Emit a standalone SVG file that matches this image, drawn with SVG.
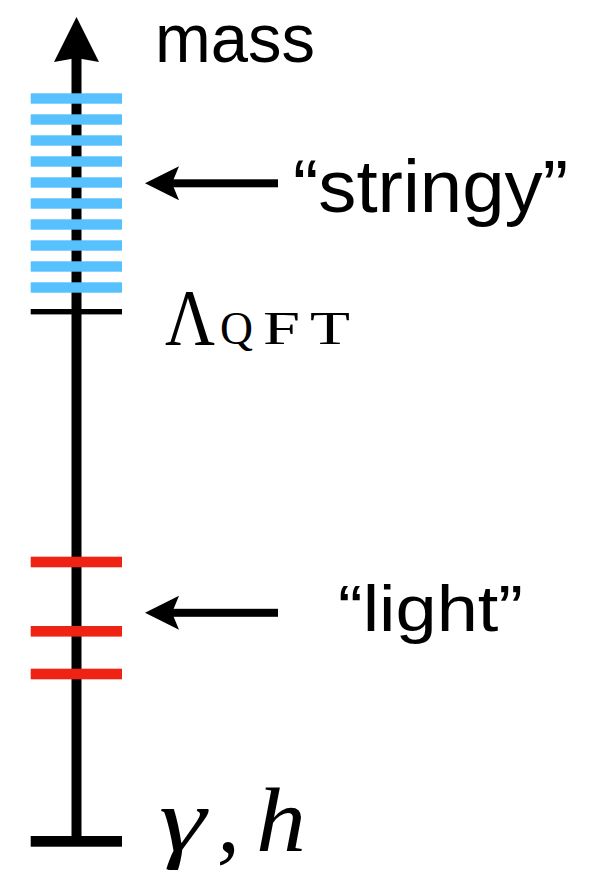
<svg xmlns="http://www.w3.org/2000/svg" width="599" height="870" viewBox="0 0 599 870">
<style>
.sans{font-family:"Liberation Sans",Arial,sans-serif;fill:#000}
.serif{font-family:"Liberation Serif","Times New Roman",serif;fill:#000}
.blue{fill:#56C1FE}
.red{fill:#EE2314}
.blk{fill:#000}
</style>
<defs>
<path id="larrow" d="M0,0 L34,-17 L27,0 L34,17 Z"/>
</defs>
<g id="axis">
<rect class="blk" x="71.5" y="56" width="10" height="790"/>
<polygon class="blk" points="76.5,17 99,62 76.5,58 54,62"/>
<rect class="blk" x="30.7" y="836" width="91.3" height="10.7"/>
<text class="sans" x="155" y="61.7" font-size="68" textLength="160" lengthAdjust="spacingAndGlyphs">mass</text>
</g>
<g id="stringy-states">
<rect class="blue" x="30.7" y="93.3" width="91.3" height="10.4"/>
<rect class="blue" x="30.7" y="114.3" width="91.3" height="10.4"/>
<rect class="blue" x="30.7" y="135.3" width="91.3" height="10.4"/>
<rect class="blue" x="30.7" y="156.3" width="91.3" height="10.4"/>
<rect class="blue" x="30.7" y="177.3" width="91.3" height="10.4"/>
<rect class="blue" x="30.7" y="198.3" width="91.3" height="10.4"/>
<rect class="blue" x="30.7" y="219.3" width="91.3" height="10.4"/>
<rect class="blue" x="30.7" y="240.3" width="91.3" height="10.4"/>
<rect class="blue" x="30.7" y="261.3" width="91.3" height="10.4"/>
<rect class="blue" x="30.7" y="282.3" width="91.3" height="10.4"/>
</g>
<g id="qft-cutoff">
<rect class="blk" x="30.7" y="309" width="91.3" height="5.4"/>
<text class="serif" x="165" y="345" font-size="80" textLength="50" lengthAdjust="spacingAndGlyphs">Λ</text>
<text class="serif" x="220" y="344" font-size="47" textLength="33" lengthAdjust="spacingAndGlyphs">Q</text>
<text class="serif" x="263" y="344" font-size="47" textLength="37" lengthAdjust="spacingAndGlyphs">F</text>
<text class="serif" x="310" y="344" font-size="47" textLength="40" lengthAdjust="spacingAndGlyphs">T</text>
</g>
<g id="light-states">
<rect class="red" x="30.7" y="556.7" width="91.3" height="10.6"/>
<rect class="red" x="30.7" y="626" width="91.3" height="10.6"/>
<rect class="red" x="30.7" y="668.7" width="91.3" height="10.6"/>
</g>
<g id="ground">
<text class="serif" x="159" y="850.7" font-size="92" font-style="italic" textLength="47" lengthAdjust="spacingAndGlyphs">γ</text>
<text class="serif" x="217" y="850.7" font-size="92" font-style="italic">,</text>
<text class="serif" x="256" y="850.7" font-size="92" font-style="italic" textLength="50" lengthAdjust="spacingAndGlyphs">h</text>
</g>
<g id="label-stringy">
<text class="sans" x="293" y="211.7" font-size="74" textLength="275" lengthAdjust="spacingAndGlyphs">“stringy”</text>
</g>
<g id="label-light">
<text class="sans" x="338" y="631" font-size="64" textLength="185" lengthAdjust="spacingAndGlyphs">“light”</text>
</g>
<g id="connectors">
<rect class="blk" x="170" y="179.3" width="108" height="8"/>
<use href="#larrow" x="145" y="183.3"/>
<rect class="blk" x="170" y="608.8" width="108" height="8"/>
<use href="#larrow" x="145" y="612.8"/>
</g>
</svg>
